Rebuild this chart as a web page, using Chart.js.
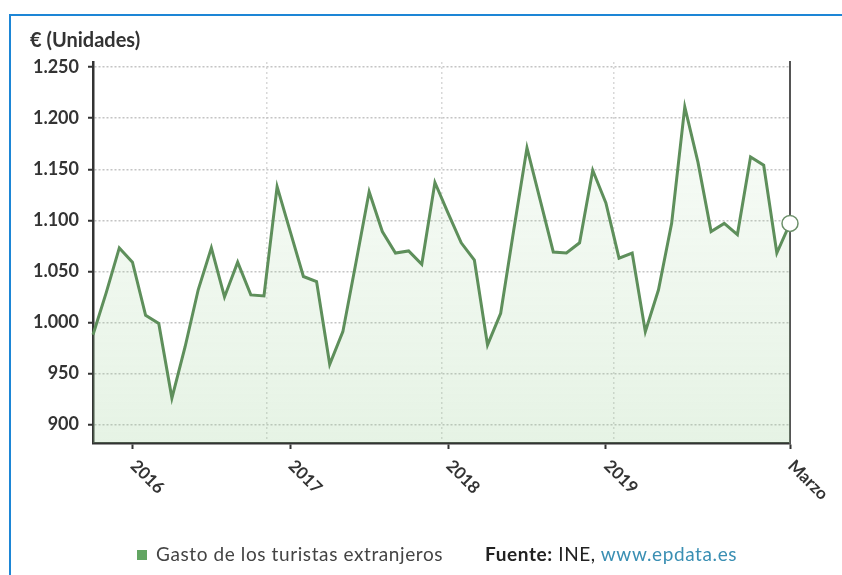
<!DOCTYPE html>
<html>
<head>
<meta charset="utf-8">
<script src="https://cdn.jsdelivr.net/npm/chart.js@4.4.1/dist/chart.umd.min.js"></script>
<style>
  body { margin: 0; background: #fff; font-family: Lato, sans-serif; }
  #wrap { position: relative; width: 842px; height: 575px; overflow: hidden; }
  #frame { position: absolute; left: 9px; top: 14px; width: 860px; height: 600px; border: 2px solid #1d86d6; }
  #myChart { position: absolute; left: 0; top: 0; }
  #legend { position: absolute; left: 137px; top: 542px; font-size: 19px; letter-spacing: 0.6px; color: #444; white-space: nowrap; }
  #legend .box { display: inline-block; width: 10px; height: 10px; background: #62a562; margin-right: 9px; vertical-align: 1px; }
  #legend .src { position: absolute; left: 348px; top: 0; color: #222; }
  #legend a { color: #3a8fb3; text-decoration: none; }
</style>
</head>
<body>
<div id="wrap">
  <div id="frame"></div>
  <canvas id="myChart" width="842" height="575"></canvas>
  <div id="legend"><span class="box"></span><span id="serieName"></span><span class="src"><b>Fuente:</b> INE, <a>www.epdata.es</a></span></div>
</div>
<script>
// monthly values, Oct 2015 -> Mar 2020
var serie = 'Gasto de los turistas extranjeros';
var months = ['Ene','Feb','Mar','Abr','May','Jun','Jul','Ago','Sep','Oct','Nov','Dic'];
var gasto = [988, 1029, 1073, 1059, 1007, 999, 926, 976, 1032, 1073, 1025, 1059,
  1027, 1026, 1133, 1089, 1045, 1040, 959, 991, 1059, 1128, 1089, 1068,
  1070, 1057, 1137, 1107, 1078, 1061, 978, 1009, 1091, 1171, 1120, 1069,
  1068, 1078, 1149, 1117, 1063, 1068, 991, 1032, 1097, 1211, 1157, 1089,
  1097, 1086, 1162, 1154, 1068, 1097];
var tickIdx = [3, 15, 27, 39, 53];
var tickLabels = ['2016', '2017', '2018', '2019', 'Marzo'];
var yTicks = [900, 950, 1000, 1050, 1100, 1150, 1200, 1250];
var vGrid = [13.2, 26.5, 39.6];

var labels = [];
var m = 9, yr = 2015;
for (var i = 0; i < gasto.length; i++) {
  labels.push(months[m] + ' ' + yr);
  m++;
  if (m > 11) { m = 0; yr++; }
}

document.getElementById('serieName').textContent = serie;

function fmt(v) {
  if (v < 1000) return String(v);
  return Math.floor(v / 1000) + '.' + String(v % 1000).padStart(3, '0');
}

// year labels go down to the right, chart.js only rotates the other way
var yearLabels = {
  id: 'yearLabels',
  afterDraw: function(chart) {
    var ctx = chart.ctx, x = chart.scales.x;
    ctx.save();
    ctx.font = 'bold 17px Lato';
    ctx.fillStyle = '#333';
    ctx.textAlign = 'left';
    ctx.textBaseline = 'middle';
    tickIdx.forEach(function(idx, k) {
      var px = x.getPixelForValue(idx);
      ctx.save();
      ctx.translate(px + 1, x.top + 20);
      ctx.rotate(Math.PI / 4);
      ctx.fillText(tickLabels[k], 0, 0);
      ctx.restore();
    });
    ctx.restore();
  }
};

var ctx = document.getElementById('myChart').getContext('2d');
var myChart = new Chart(ctx, {
  type: 'line',
  data: {
    labels: labels,
    datasets: [{
      label: serie,
      data: gasto,
      borderColor: '#5e8f5b',
      borderWidth: 3,
      tension: 0,
      fill: 'start',
      backgroundColor: function(c) {
        var a = c.chart.chartArea;
        if (!a) return 'rgba(150,205,145,0.16)';
        var g = c.chart.ctx.createLinearGradient(0, a.top, 0, a.bottom);
        g.addColorStop(0, 'rgba(150,205,145,0.04)');
        g.addColorStop(1, 'rgba(150,205,145,0.24)');
        return g;
      },
      clip: false,
      pointRadius: function(c) { return c.dataIndex === gasto.length - 1 ? 8 : 0; },
      pointBackgroundColor: '#fff',
      pointBorderColor: '#6b8f69',
      pointBorderWidth: 1.5
    }]
  },
  options: {
    responsive: false,
    animation: false,
    layout: { padding: { left: 30, right: 52, top: 29, bottom: 0 } },
    plugins: {
      legend: { display: false },
      tooltip: { enabled: false },
      title: {
        display: true,
        text: '€ (Unidades)',
        align: 'start',
        color: '#333',
        font: { family: 'Lato', size: 20, weight: 'bold' },
        padding: { top: 0, bottom: 9 }
      }
    },
    scales: {
      x: {
        type: 'category',
        offset: false,
        grid: { drawOnChartArea: false, drawTicks: true, tickLength: 6, tickColor: '#333', tickWidth: 2 },
        border: { color: '#333', width: 2.5 },
        ticks: { display: false, autoSkip: false },
        afterBuildTicks: function(s) { s.ticks = tickIdx.map(function(v) { return { value: v }; }); },
        afterFit: function(s) { s.height = 132; }
      },
      x2: {
        type: 'linear',
        position: 'bottom',
        min: 0,
        max: gasto.length - 1,
        grid: { color: '#d8d8d8', lineWidth: 1.5, drawTicks: false },
        border: { display: false, dash: [2, 3] },
        ticks: { display: false },
        afterBuildTicks: function(s) { s.ticks = vGrid.map(function(v) { return { value: v }; }); },
        afterFit: function(s) { s.height = 0; }
      },
      y: {
        min: 882,
        max: 1255,
        grid: { color: '#c4c4c4', lineWidth: 1.5, tickLength: 5, tickColor: '#333', tickWidth: 2 },
        border: { color: '#333', width: 2.5, dash: [2, 2] },
        ticks: {
          padding: 9,
          color: '#333',
          font: { family: 'Lato', size: 18, weight: 'bold' },
          callback: function(v) { return fmt(v); }
        },
        afterBuildTicks: function(s) { s.ticks = yTicks.map(function(v) { return { value: v }; }); },
        afterFit: function(s) { s.width = 63; }
      },
      y2: {
        position: 'right',
        grid: { display: false },
        border: { color: '#555', width: 2 },
        ticks: { display: false },
        afterFit: function(s) { s.width = 0; }
      }
    }
  },
  plugins: [yearLabels]
});
</script>
</body>
</html>
